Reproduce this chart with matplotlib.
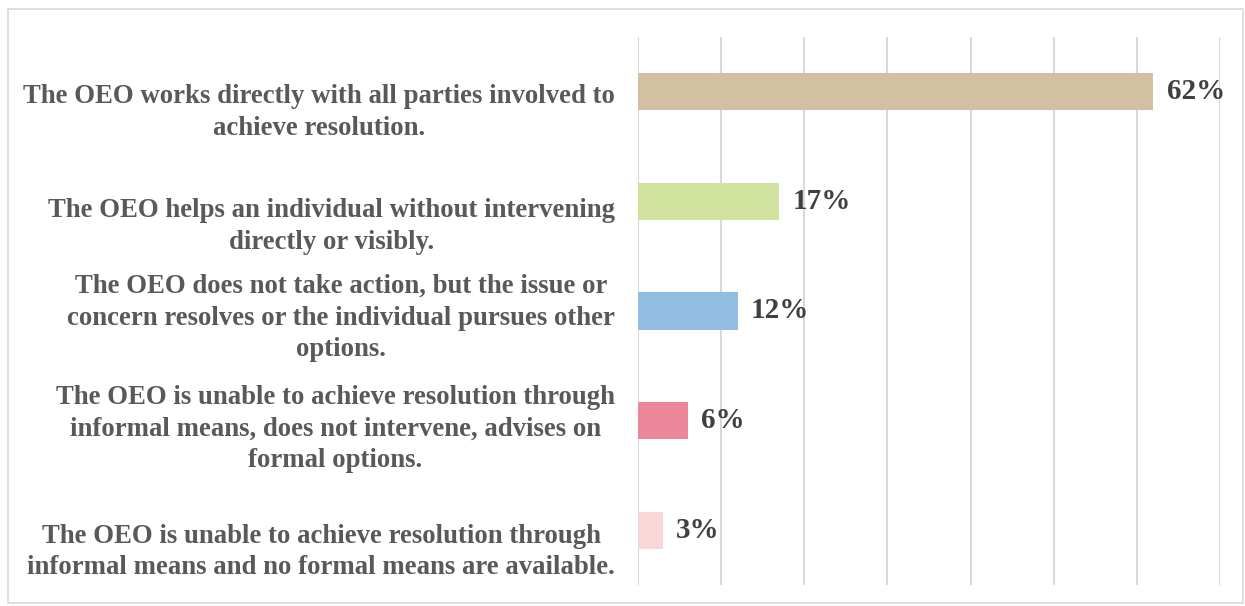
import matplotlib
matplotlib.use('Agg')
import matplotlib.pyplot as plt
from matplotlib.patches import Rectangle
from matplotlib.transforms import blended_transform_factory

# data, top to bottom
labels = [
    'The OEO works directly with all parties involved to\nachieve resolution.',
    'The OEO helps an individual without intervening\ndirectly or visibly.',
    'The OEO does not take action, but the issue or\nconcern resolves or the individual pursues other\noptions.',
    'The OEO is unable to achieve resolution through\ninformal means, does not intervene, advises on\nformal options.',
    'The OEO is unable to achieve resolution through\ninformal means and no formal means are available.',
]
values = [62, 17, 12, 6, 3]
colors = ['#D3BFA2', '#D0E29E', '#93BCE2', '#EC8799', '#F9D6D8']

plt.rcParams['font.family'] = ['Liberation Serif', 'DejaVu Serif']

fig = plt.figure(figsize=(12.45, 6.06), dpi=100)
W, H = 1245, 606
# light frame around the chart
fig.patches.append(Rectangle((8 / W, 3 / H), 1235 / W, 594 / H, transform=fig.transFigure,
                             fill=False, edgecolor='#d9d9d9', linewidth=1.2))

ax = fig.add_axes([638 / W, 21 / H, 582 / W, 548 / H])
ypos = list(range(len(values)))
ax.barh(ypos, values, height=0.34, color=colors, zorder=3)
ax.set_ylim(len(values) - 0.5, -0.5)
ax.set_xlim(0, 70)
ax.set_xticks(range(0, 71, 10))
ax.xaxis.grid(True, color='#d9d9d9', linewidth=1.5, zorder=0)
ax.tick_params(axis='x', length=0, labelbottom=False)
ax.set_yticks([])
for s in ax.spines.values():
    s.set_visible(False)

# category labels sit a little below their bars in the original
shift = [0.19, 0.23, 0.065, 0.075, 0.2]
tr = blended_transform_factory(fig.transFigure, ax.transData)
for y, lab, d in zip(ypos, labels, shift):
    ax.text(615 / W, y + d, lab, transform=tr, ha='right', va='center',
            multialignment='center', fontsize=19.3, fontweight='bold',
            color='#595959', linespacing=1.34)

for y, v in zip(ypos, values):
    ax.text(v + 1.6, y, f'{v}%', va='center', ha='left', fontsize=21,
            fontweight='bold', color='#404040')

fig.savefig('out.png', dpi=100)
